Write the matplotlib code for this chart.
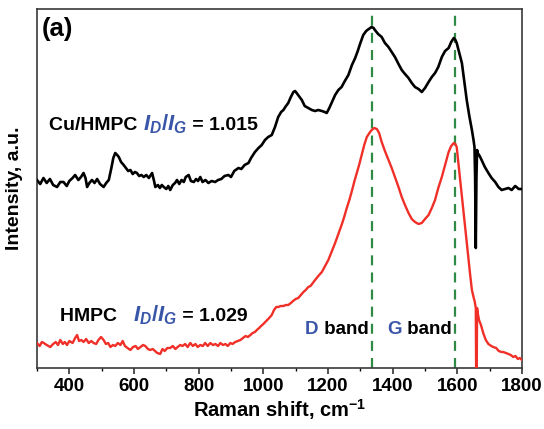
import matplotlib
matplotlib.use("Agg")
import matplotlib.pyplot as plt
from matplotlib.ticker import MultipleLocator
from matplotlib.offsetbox import TextArea, HPacker, AnnotationBbox

plt.rcParams["font.family"] = ["Liberation Sans", "DejaVu Sans"]
plt.rcParams["font.weight"] = "bold"
plt.rcParams["mathtext.fontset"] = "custom"
plt.rcParams["mathtext.it"] = "Liberation Sans:italic:bold"
plt.rcParams["mathtext.rm"] = "Liberation Sans:bold"
plt.rcParams["mathtext.bf"] = "Liberation Sans:bold"

# Raman spectrum of Cu/HMPC (raman shift in cm^-1, intensity in a.u.)
cu_shift = [300, 310, 320, 330, 340, 350, 362, 372, 382, 392, 400, 410, 418, 428, 436,
            444, 450, 455, 462, 470, 478, 486, 495, 506, 514, 522, 530, 536, 542, 548,
            553, 560, 568, 575, 582, 589, 596, 603, 609, 616, 623, 630, 638, 646, 656,
            662, 666, 674, 680, 686, 692, 700, 706, 712, 720, 727, 733, 740, 747, 754,
            760, 769, 776, 785, 792, 798, 805, 812, 821, 830, 840, 851, 860, 870, 880,
            892, 900, 910, 923, 932, 942, 954, 962, 974, 985, 995, 1005, 1015, 1026, 1036,
            1046, 1055, 1062, 1070, 1077, 1085, 1093, 1098, 1103, 1110, 1119, 1128, 1139, 1150, 1160,
            1170, 1181, 1190, 1196, 1204, 1211, 1222, 1232, 1242, 1252, 1263, 1274, 1284, 1292, 1299,
            1309, 1318, 1326, 1335, 1341, 1345, 1355, 1366, 1376, 1387, 1397, 1407, 1418, 1428, 1438,
            1449, 1459, 1469, 1480, 1490, 1500, 1511, 1521, 1531, 1541, 1552, 1562, 1573, 1581, 1589,
            1594, 1598, 1606, 1614, 1622, 1629, 1637, 1645, 1650, 1653, 1655, 1657, 1659, 1661, 1663,
            1669, 1675, 1685, 1696, 1706, 1717, 1727, 1737, 1747, 1758, 1768, 1779, 1790, 1800]
cu_int = [188, 184, 190, 185, 189, 183, 181, 186, 186, 182, 187, 190, 193, 188, 191,
          195, 190, 181, 185, 188, 185, 189, 184, 181, 185, 188, 200, 210, 215, 213,
          211, 206, 203, 200, 197, 198, 194, 196, 195, 192, 193, 191, 193, 190, 195,
          187, 181, 183, 180, 183, 181, 179, 182, 178, 183, 185, 188, 184, 188, 186,
          191, 193, 187, 186, 189, 187, 191, 186, 188, 185, 187, 186, 188, 189, 192,
          193, 191, 197, 200, 199, 203, 205, 210, 216, 220, 223, 228, 231, 233, 241,
          251, 256, 258, 262, 265, 271, 276, 277, 275, 272, 268, 262, 260, 258, 257,
          258, 257, 256, 255, 260, 265, 273, 278, 281, 287, 293, 303, 310, 317, 324,
          333, 337, 339, 341, 340, 338, 334, 331, 325, 321, 316, 311, 304, 298, 294,
          290, 285, 281, 279, 276, 280, 286, 291, 295, 301, 311, 317, 320, 326, 330,
          328, 325, 315, 305, 285, 268, 252, 238, 228, 221, 190, 120, 190, 218, 215,
          212, 208, 201, 195, 190, 186, 181, 178, 179, 180, 178, 182, 179, 179]

# Raman spectrum of HMPC
hm_shift = [300, 308, 315, 321, 330, 341, 350, 358, 365, 372, 380, 386, 393, 400, 410,
            418, 424, 430, 437, 444, 452, 460, 468, 475, 483, 490, 498, 506, 513, 520,
            527, 535, 542, 550, 558, 565, 572, 580, 589, 597, 605, 612, 620, 628, 635,
            643, 650, 658, 665, 672, 681, 688, 695, 703, 712, 720, 728, 735, 743, 750,
            758, 766, 774, 782, 790, 797, 805, 813, 820, 828, 836, 844, 852, 860, 867,
            875, 883, 890, 898, 905, 913, 921, 929, 937, 945, 952, 960, 967, 974, 980,
            987, 993, 1000, 1006, 1012, 1018, 1026, 1033, 1040, 1046, 1054, 1062, 1070, 1077, 1085,
            1092, 1100, 1108, 1116, 1124, 1131, 1139, 1146, 1153, 1160, 1170, 1181, 1191, 1201, 1211,
            1222, 1232, 1242, 1250, 1258, 1266, 1273, 1281, 1289, 1297, 1304, 1312, 1320, 1328, 1335,
            1343, 1351, 1358, 1366, 1376, 1387, 1397, 1407, 1418, 1428, 1438, 1449, 1459, 1469, 1480,
            1490, 1500, 1511, 1521, 1531, 1541, 1552, 1562, 1573, 1581, 1589, 1594, 1598, 1609, 1619,
            1629, 1639, 1645, 1650, 1654, 1657, 1659, 1661, 1663, 1667, 1673, 1680, 1688, 1696, 1705,
            1711, 1720, 1728, 1736, 1742, 1750, 1758, 1765, 1773, 1780, 1787, 1793, 1800]
hm_int = [25, 22, 26, 25, 23, 21, 24, 26, 23, 28, 24, 26, 23, 27, 25,
          30, 33, 27, 28, 26, 29, 25, 27, 25, 24, 28, 31, 28, 24, 25,
          21, 23, 22, 25, 23, 27, 22, 20, 18, 21, 22, 19, 21, 23, 22,
          19, 18, 19, 17, 15, 14, 19, 17, 20, 20, 22, 19, 21, 23, 22,
          24, 21, 25, 22, 24, 21, 23, 22, 25, 22, 25, 23, 24, 22, 25,
          23, 24, 22, 25, 24, 26, 27, 28, 30, 32, 31, 33, 35, 36, 38,
          40, 42, 44, 46, 48, 50, 53, 58, 61, 61, 62, 62, 63, 63, 65,
          67, 69, 70, 73, 76, 78, 81, 82, 85, 88, 92, 96, 102, 108, 116,
          125, 134, 143, 151, 160, 168, 176, 186, 195, 204, 213, 223, 231, 235, 238,
          240, 239, 235, 226, 217, 208, 200, 191, 181, 171, 163, 155, 149, 146, 144,
          145, 149, 153, 160, 168, 180, 191, 203, 216, 222, 225, 224, 221, 187, 156,
          125, 95, 78, 71, 66, 60, -60, 60, 55, 48, 43, 35, 28, 24, 22,
          21, 20, 17, 16, 16, 15, 14, 13, 11, 12, 9, 10, 8]

band_positions = [1336, 1592]
band_names = ["D", "G"]
xticks = [400, 600, 800, 1000, 1200, 1400, 1600, 1800]

blue = "#3a56a8"
green = "#2e8a44"

fig = plt.figure(figsize=(5.44, 4.29), dpi=100)
ax = fig.add_axes([0.068, 0.1422, 0.8916, 0.8368])

ax.plot(cu_shift, cu_int, color="black", lw=1.9, zorder=3)
ax.plot(hm_shift, hm_int, color="#f03028", lw=1.7, zorder=3)
for pos in band_positions:
    ax.axvline(pos, color=green, lw=1.6, ls=(0, (4.5, 3.2)), zorder=2)

ax.set_xlim(300, 1800)
ax.set_ylim(0, 359)
ax.set_xticks(xticks)
ax.xaxis.set_minor_locator(MultipleLocator(100))
ax.set_yticks([])
ax.tick_params(axis="x", which="major", direction="out", length=4, width=1.1,
               labelsize=13.5, pad=3, colors="#222222", labelcolor="black")
ax.tick_params(axis="x", which="minor", direction="out", length=2.5, width=1.0)
for lab in ax.get_xticklabels():
    lab.set_fontweight("bold")
for sp in ax.spines.values():
    sp.set_linewidth(1.2)
    sp.set_color("#3a3a3a")

ax.set_xlabel("Raman shift, cm$^{\\mathbf{-1}}$", fontsize=14.5, fontweight="bold", labelpad=2)
ax.set_ylabel("Intensity, a.u.", fontsize=14, fontweight="bold", labelpad=10)

ax.text(0.01, 0.978, "(a)", transform=ax.transAxes, fontsize=18.5, fontweight="bold",
        va="top", ha="left")


def ratio_label(x, y, name, value):
    parts = [
        TextArea(name, textprops=dict(fontsize=14, fontweight="bold", color="black")),
        TextArea(r"$I_D/I_G$", textprops=dict(fontsize=16, color=blue)),
        TextArea(" = " + value, textprops=dict(fontsize=14, fontweight="bold", color="black")),
    ]
    box = HPacker(children=parts, align="baseline", pad=0, sep=0)
    ab = AnnotationBbox(box, (x, y), xycoords="data", box_alignment=(0, 0.5),
                        frameon=False, pad=0)
    ax.add_artist(ab)


ratio_label(338, 244, "Cu/HMPC ", "1.015")
ratio_label(371, 53, "HMPC   ", "1.029")

band_x = [1129, 1383]
for bx, nm in zip(band_x, band_names):
    parts = [
        TextArea(nm, textprops=dict(fontsize=13.5, fontweight="bold", color=blue)),
        TextArea(" band", textprops=dict(fontsize=13.5, fontweight="bold", color="black")),
    ]
    box = HPacker(children=parts, align="baseline", pad=0, sep=0)
    ax.add_artist(AnnotationBbox(box, (bx, 38), xycoords="data", box_alignment=(0, 0.5),
                                 frameon=False, pad=0))

fig.savefig("out.png", dpi=100)
